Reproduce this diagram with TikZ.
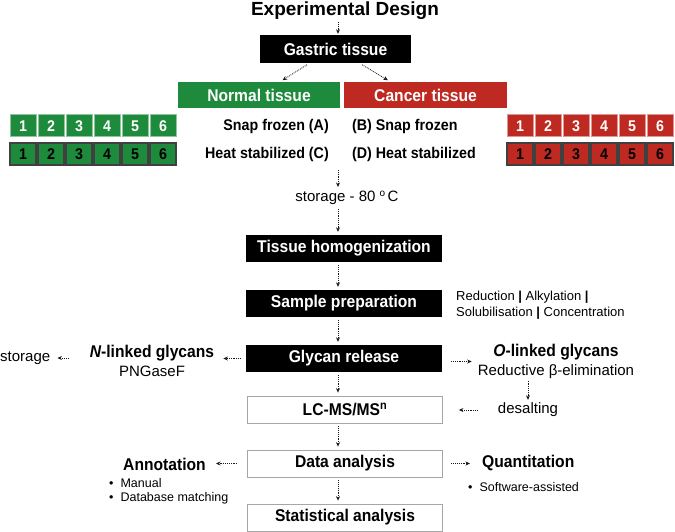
\documentclass[tikz,border=0pt]{standalone}
\usepackage{fontspec}
\setmainfont{Liberation Sans}
\newfontfamily\narrowsans[FakeStretch=0.92]{Liberation Sans}
\usetikzlibrary{arrows.meta}
\definecolor{normalgreen}{RGB}{30,138,60}
\definecolor{cancerred}{RGB}{190,42,34}
\tikzset{
  flow/.style={densely dotted, line width=0.85pt, black!90, -{Stealth[length=4.5pt,width=4pt]}, shorten <=3pt, shorten >=3pt},
  blackbox/.style={fill=black, text=white, font=\narrowsans\fontsize{17}{20}\selectfont\bfseries, minimum width=196pt, minimum height=27pt, inner sep=0pt},
  whitebox/.style={draw=black!35, line width=0.8pt, fill=white, font=\narrowsans\fontsize{17}{20}\selectfont\bfseries, minimum width=195pt, minimum height=27pt, inner sep=0pt},
  tissuebox/.style={text=white, font=\narrowsans\fontsize{17}{20}\selectfont\bfseries, minimum height=26pt, inner sep=0pt},
  numbox/.style={minimum width=26pt, minimum height=22pt, inner sep=0pt, font=\narrowsans\fontsize{15.5}{18}\selectfont\bfseries},
  rowtext/.style={font=\narrowsans\fontsize{15.5}{18}\selectfont\bfseries, inner sep=1pt},
  plaintext/.style={font=\fontsize{15}{18.5}\selectfont, inner sep=1pt},
  headtext/.style={font=\narrowsans\fontsize{17}{19}\selectfont\bfseries, inner sep=1pt},
  smalltext/.style={font=\fontsize{12.5}{15}\selectfont, inner sep=0pt}
}
\begin{document}
\begin{tikzpicture}[x=1pt, y=-1pt]
  \useasboundingbox (0,0) rectangle (675,532);
  \coordinate (axis) at (338,0);
  \node[font=\fontsize{19}{22}\selectfont\bfseries, inner sep=1pt] (title) at (345,11) {Experimental Design};
  \node[blackbox, minimum width=151pt, minimum height=28pt] (gastric) at (335.5,49) {Gastric tissue};
  \node[tissuebox, fill=normalgreen, minimum width=162pt] (normal) at (259,95) {Normal tissue};
  \node[tissuebox, fill=cancerred, minimum width=163pt] (cancer) at (425.5,95) {Cancer tissue};
  \foreach \i in {1,...,6} {
    \node[numbox, fill=normalgreen, draw=normalgreen!50!white, line width=1pt, text=white] (nsnap\i) at ({23+28*(\i-1)},126) {\i};
    \node[numbox, fill=normalgreen, draw=black!75, line width=1.3pt, text=black] (nheat\i) at ({23+28*(\i-1)},154) {\i};
    \node[numbox, fill=cancerred, draw=cancerred!50!white, line width=1pt, text=white] (csnap\i) at ({520+28*(\i-1)},126) {\i};
    \node[numbox, fill=cancerred, draw=black!75, line width=1.3pt, text=black] (cheat\i) at ({520+28*(\i-1)},154) {\i};
  }
  \node[rowtext, anchor=east] (snapA) at (330,126) {Snap frozen (A)};
  \node[rowtext, anchor=east] (heatC) at (330,154) {Heat stabilized (C)};
  \node[rowtext, anchor=west] (snapB) at (351,126) {(B) Snap frozen};
  \node[rowtext, anchor=west] (heatD) at (351,154) {(D) Heat stabilized};
  \coordinate (pooled) at (338,170);
  \node[plaintext] (freezer) at (347,198) {storage - 80 {\fontsize{10}{10}\selectfont\raisebox{5pt}{o}}\,C};
  \node[blackbox] (homog) at (344,248.5) {Tissue homogenization};
  \node[blackbox] (prep) at (344,303.5) {Sample preparation};
  \node[font=\fontsize{13}{16}\selectfont, anchor=west, align=left, inner sep=0pt] (prepsteps) at (456,305) {Reduction \textbf{|} Alkylation \textbf{|}\\Solubilisation \textbf{|} Concentration};
  \node[blackbox] (release) at (344,358.5) {Glycan release};
  \node[plaintext, align=center] (nlinked) at (152,361) {{\narrowsans\fontsize{17}{19}\selectfont\bfseries\itshape N\upshape-linked glycans}\\PNGaseF};
  \node[plaintext, anchor=west] (nstore) at (-1,358) {storage};
  \node[plaintext, align=center] (olinked) at (556,361.5) {{\narrowsans\fontsize{17}{19}\selectfont\bfseries\itshape O\upshape-linked glycans}\\Reductive β-elimination};
  \node[plaintext] (desalt) at (528,410) {desalting};
  \node[whitebox] (lcms) at (345,409.5) {LC-MS/MS\textsuperscript{n}};
  \node[whitebox] (data) at (345,463.5) {Data analysis};
  \node[whitebox] (stat) at (345,517.5) {Statistical analysis};
  \node[headtext] (annot) at (164.5,464) {Annotation};
  \node[headtext, anchor=west] (quant) at (481,463) {Quantitation};
  \node[smalltext, anchor=west] (manual) at (109,483) {\textbullet\hspace{7pt}Manual};
  \node[smalltext, anchor=west] (dbmatch) at (109,498) {\textbullet\hspace{7pt}Database matching};
  \node[smalltext, anchor=west] (software) at (468,487) {\textbullet\hspace{7pt}Software-assisted};
  \draw[flow, shorten <=1pt, shorten >=1pt] (title.south -| axis) -- (gastric.north -| axis);
  \draw[flow] ([xshift=-26pt]gastric.south) -- ([xshift=21pt]normal.north);
  \draw[flow] ([xshift=24pt]gastric.south) -- ([xshift=-35pt]cancer.north);
  \draw[flow, shorten <=0pt] (pooled) -- (freezer.north -| axis);
  \draw[flow] (freezer.south -| axis) -- (homog.north -| axis);
  \draw[flow] (homog.south -| axis) -- (prep.north -| axis);
  \draw[flow] (prep.south -| axis) -- (release.north -| axis);
  \draw[flow, shorten <=5pt, shorten >=8pt] (release.west) -- (release.west -| nlinked.east);
  \draw[flow, shorten <=20pt, shorten >=6pt] (nlinked.west |- nstore) -- (nstore.east);
  \draw[flow, shorten <=9pt, shorten >=5pt] ([yshift=-3pt]release.east) -- ([yshift=-3pt]release.east -| olinked.west);
  \draw[flow, shorten <=1pt, shorten >=2pt] (olinked.south -| desalt) -- (desalt.north);
  \draw[flow, shorten <=19pt, shorten >=16pt] (desalt.west) -- (desalt.west -| lcms.east);
  \draw[flow] (release.south -| axis) -- (lcms.north -| axis);
  \draw[flow] (lcms.south -| axis) -- (data.north -| axis);
  \draw[flow, shorten <=10pt, shorten >=9pt] (data.west) -- (data.west -| annot.east);
  \draw[flow, shorten <=8.5pt, shorten >=11pt] (data.east) -- (data.east -| quant.west);
  \draw[flow] (data.south -| axis) -- (stat.north -| axis);
\end{tikzpicture}
\end{document}
